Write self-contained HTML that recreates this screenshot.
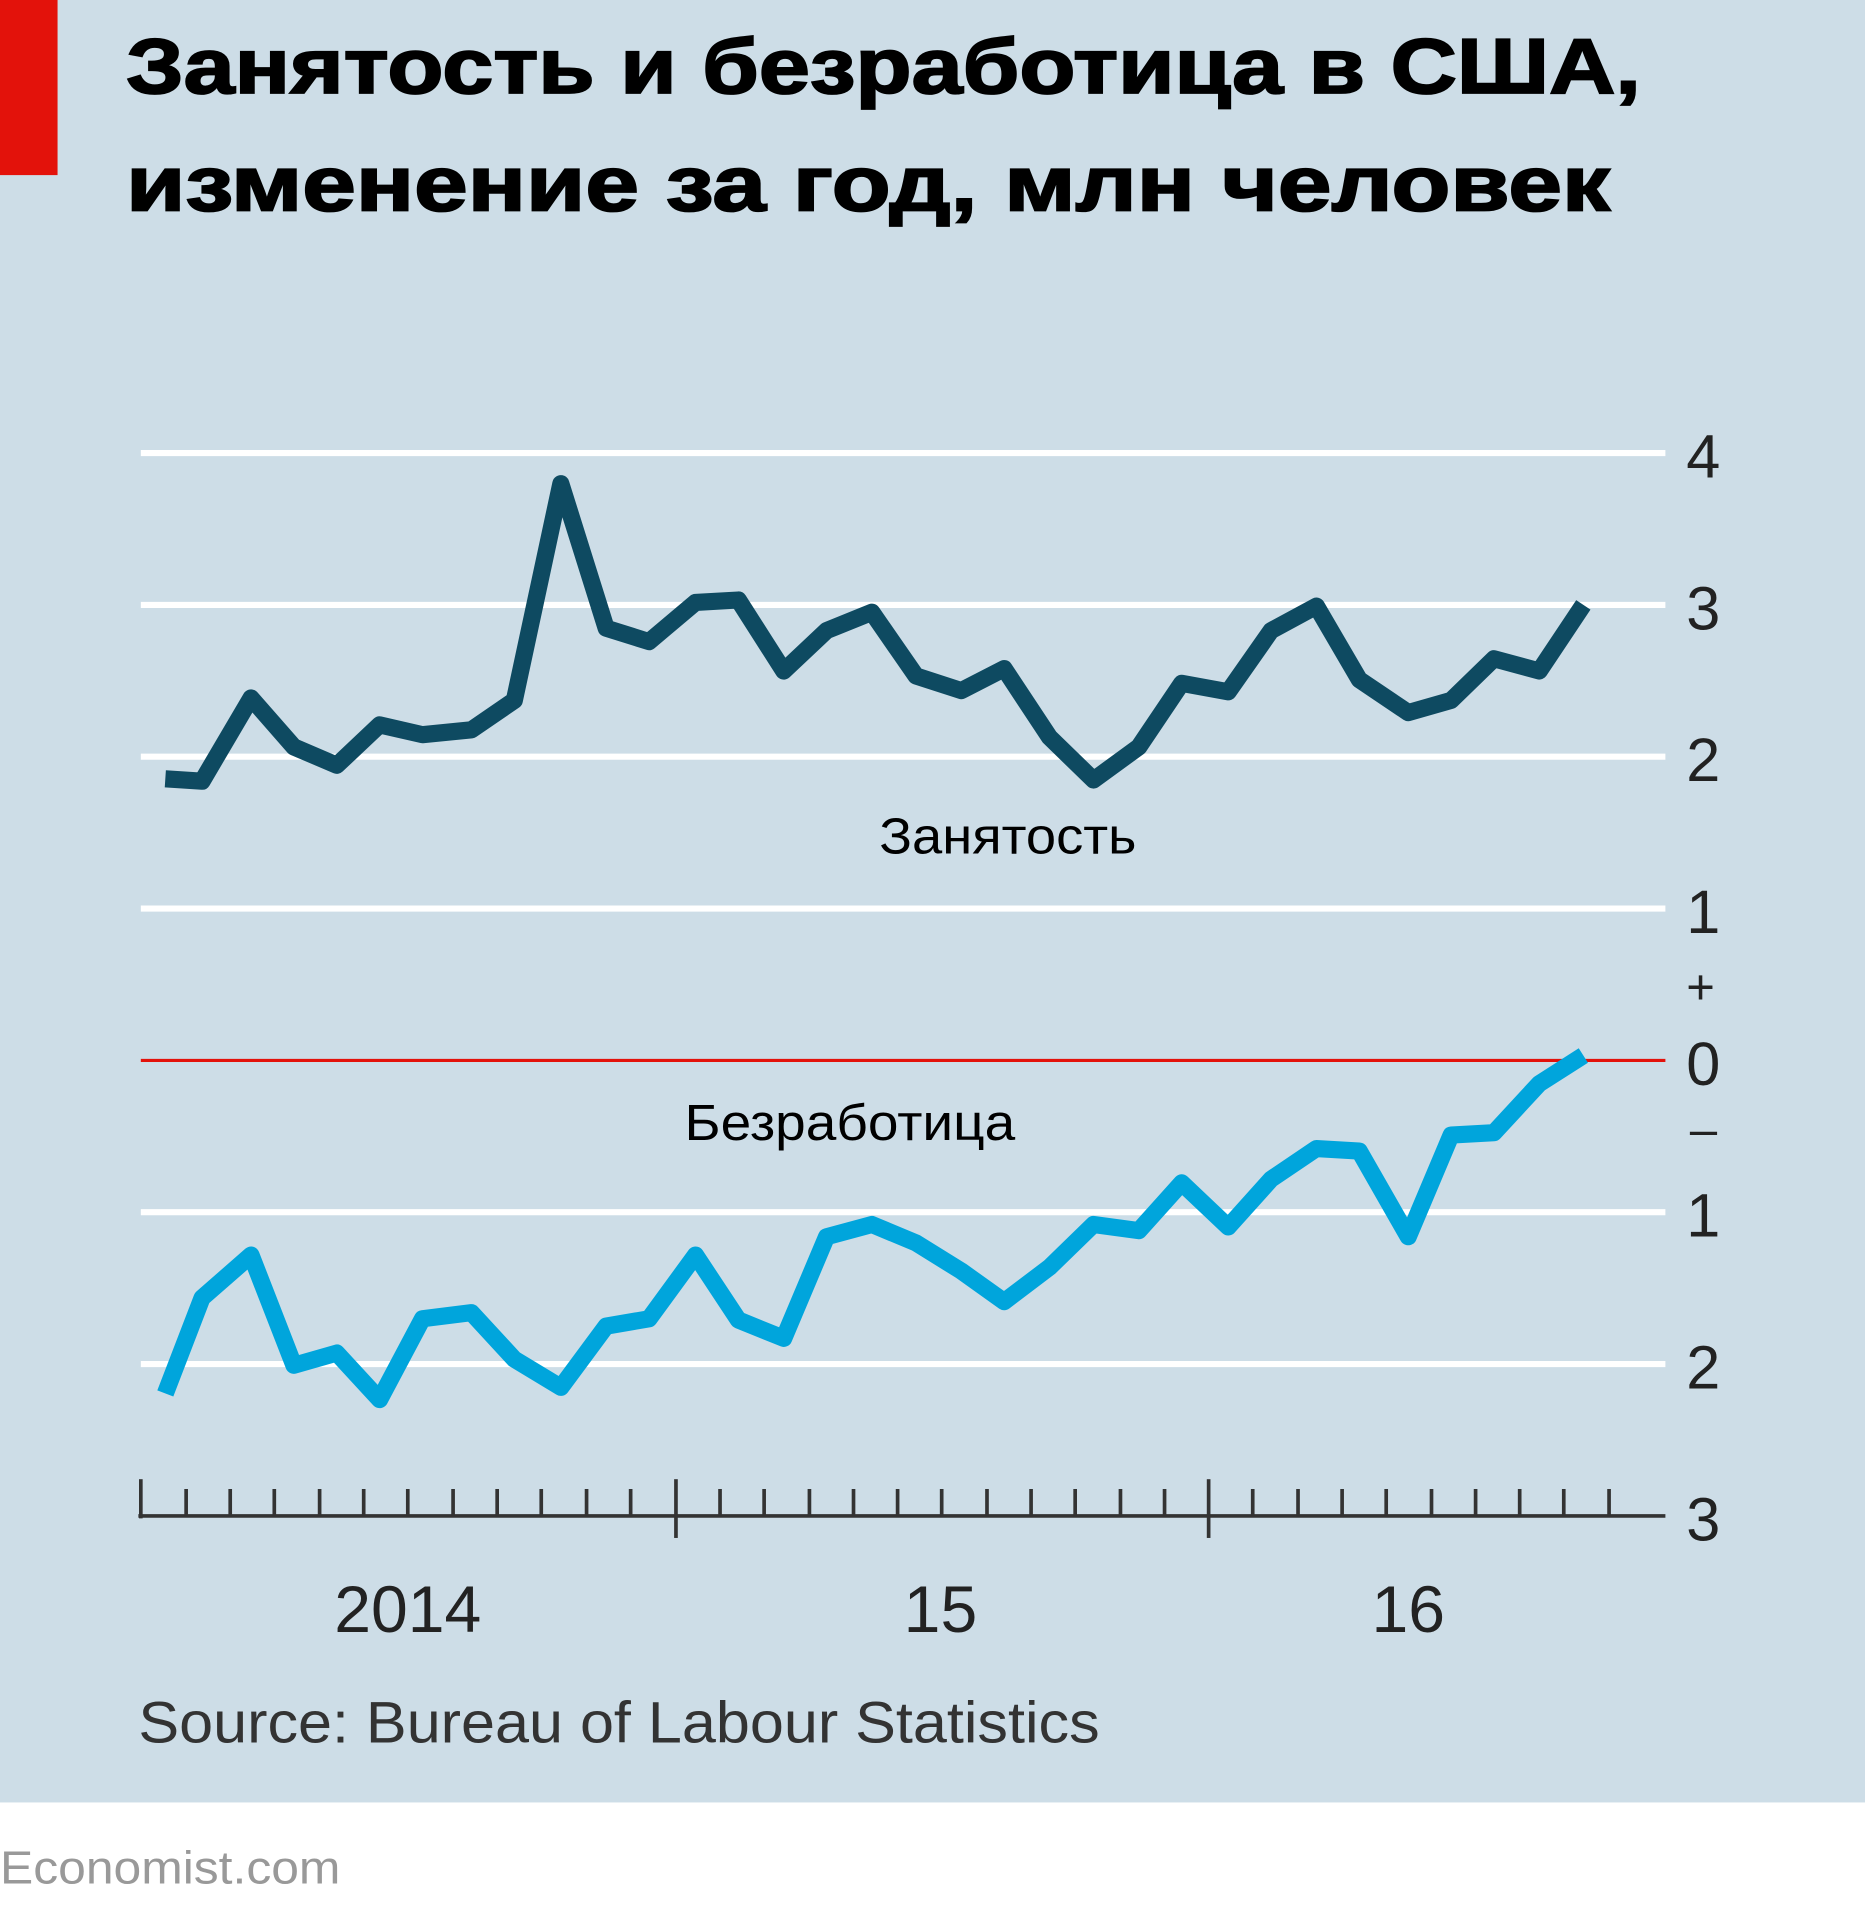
<!DOCTYPE html>
<html><head><meta charset="utf-8"><style>
html,body{margin:0;padding:0;background:#fff}
svg{display:block}
</style></head><body>
<svg width="1865" height="1920" viewBox="0 0 1523 1568" preserveAspectRatio="none" xmlns="http://www.w3.org/2000/svg">
<rect x="0" y="0" width="1523" height="1472" fill="#cddde7"/>
<rect x="0" y="0" width="47" height="143" fill="#e3120b"/>
<g font-family="'Liberation Sans','DejaVu Sans',sans-serif" font-weight="900" font-size="64" fill="#000" stroke="#000" stroke-width="1.5">
<text x="103" y="76" textLength="1237" lengthAdjust="spacingAndGlyphs">Занятость и безработица в США,</text>
<text x="103" y="172" textLength="1212" lengthAdjust="spacingAndGlyphs">изменение за год, млн человек</text>
</g>
<g stroke="#fff" stroke-width="5">
<line x1="115" y1="370" x2="1360" y2="370"/>
<line x1="115" y1="494" x2="1360" y2="494"/>
<line x1="115" y1="618" x2="1360" y2="618"/>
<line x1="115" y1="742" x2="1360" y2="742"/>
<line x1="115" y1="990" x2="1360" y2="990"/>
<line x1="115" y1="1114" x2="1360" y2="1114"/>
</g>
<line x1="115" y1="866" x2="1360" y2="866" stroke="#e3120b" stroke-width="2.5"/>
<g stroke="#333" stroke-width="3">
<line x1="113" y1="1238" x2="1360" y2="1238"/>
<line x1="115" y1="1208" x2="115" y2="1240"/>
<line x1="552" y1="1208" x2="552" y2="1256"/>
<line x1="987" y1="1208" x2="987" y2="1256"/>
<path d="M152 1238V1216M188 1238V1216M224 1238V1216M261 1238V1216M297 1238V1216M333 1238V1216M370 1238V1216M406 1238V1216M442 1238V1216M479 1238V1216M515 1238V1216M588 1238V1216M624 1238V1216M661 1238V1216M697 1238V1216M733 1238V1216M769 1238V1216M806 1238V1216M842 1238V1216M878 1238V1216M915 1238V1216M951 1238V1216M1023 1238V1216M1060 1238V1216M1096 1238V1216M1132 1238V1216M1169 1238V1216M1205 1238V1216M1241 1238V1216M1277 1238V1216M1314 1238V1216"/>
</g>
<g font-family="'Liberation Sans Narrow','Liberation Sans',sans-serif" font-size="50" fill="#222">
<text x="1377" y="390">4</text>
<text x="1377" y="514">3</text>
<text x="1377" y="638">2</text>
<text x="1377" y="762">1</text>
<text x="1377" y="820" font-size="40">+</text>
<text x="1377" y="886">0</text>
<text x="1380" y="936" font-size="40">–</text>
<text x="1377" y="1010">1</text>
<text x="1377" y="1134">2</text>
<text x="1377" y="1258">3</text>
<text x="333" y="1333" text-anchor="middle" font-size="54">2014</text>
<text x="768" y="1333" text-anchor="middle" font-size="54">15</text>
<text x="1150" y="1333" text-anchor="middle" font-size="54">16</text>
<text x="113" y="1423" font-size="48" fill="#333" textLength="785" lengthAdjust="spacingAndGlyphs">Source: Bureau of Labour Statistics</text>
<text x="0" y="1538" font-size="38" fill="#999" textLength="278" lengthAdjust="spacingAndGlyphs">Economist.com</text>
</g>
<g font-family="'Liberation Sans',sans-serif" font-size="42" fill="#000">
<text x="718" y="697" textLength="210" lengthAdjust="spacingAndGlyphs">Занятость</text>
<text x="559" y="931" textLength="270" lengthAdjust="spacingAndGlyphs">Безработица</text>
</g>
<polyline fill="none" stroke="#0e4a61" stroke-width="14" stroke-linejoin="round" points="135,636 165,638 205,570 240,610 275,625 310,592 345,600 385,596 420,572 458,395 495,513 530,524 568,492 603,490 640,548 675,515 712,500 748,552 785,564 820,546 857,602 893,637 930,610 965,558 1003,565 1038,515 1075,495 1110,555 1150,582 1185,572 1220,538 1257,548 1293,494"/>
<polyline fill="none" stroke="#00a5dc" stroke-width="14" stroke-linejoin="round" points="135,1138 165,1060 205,1025 240,1115 275,1105 310,1143 345,1077 385,1072 420,1110 458,1133 495,1083 530,1077 568,1025 603,1078 640,1093 675,1010 712,1000 748,1015 785,1038 820,1063 857,1035 893,1000 930,1005 965,966 1003,1002 1038,963 1075,938 1110,940 1150,1010 1185,927 1220,925 1257,885 1293,862"/>
</svg>
</body></html>
